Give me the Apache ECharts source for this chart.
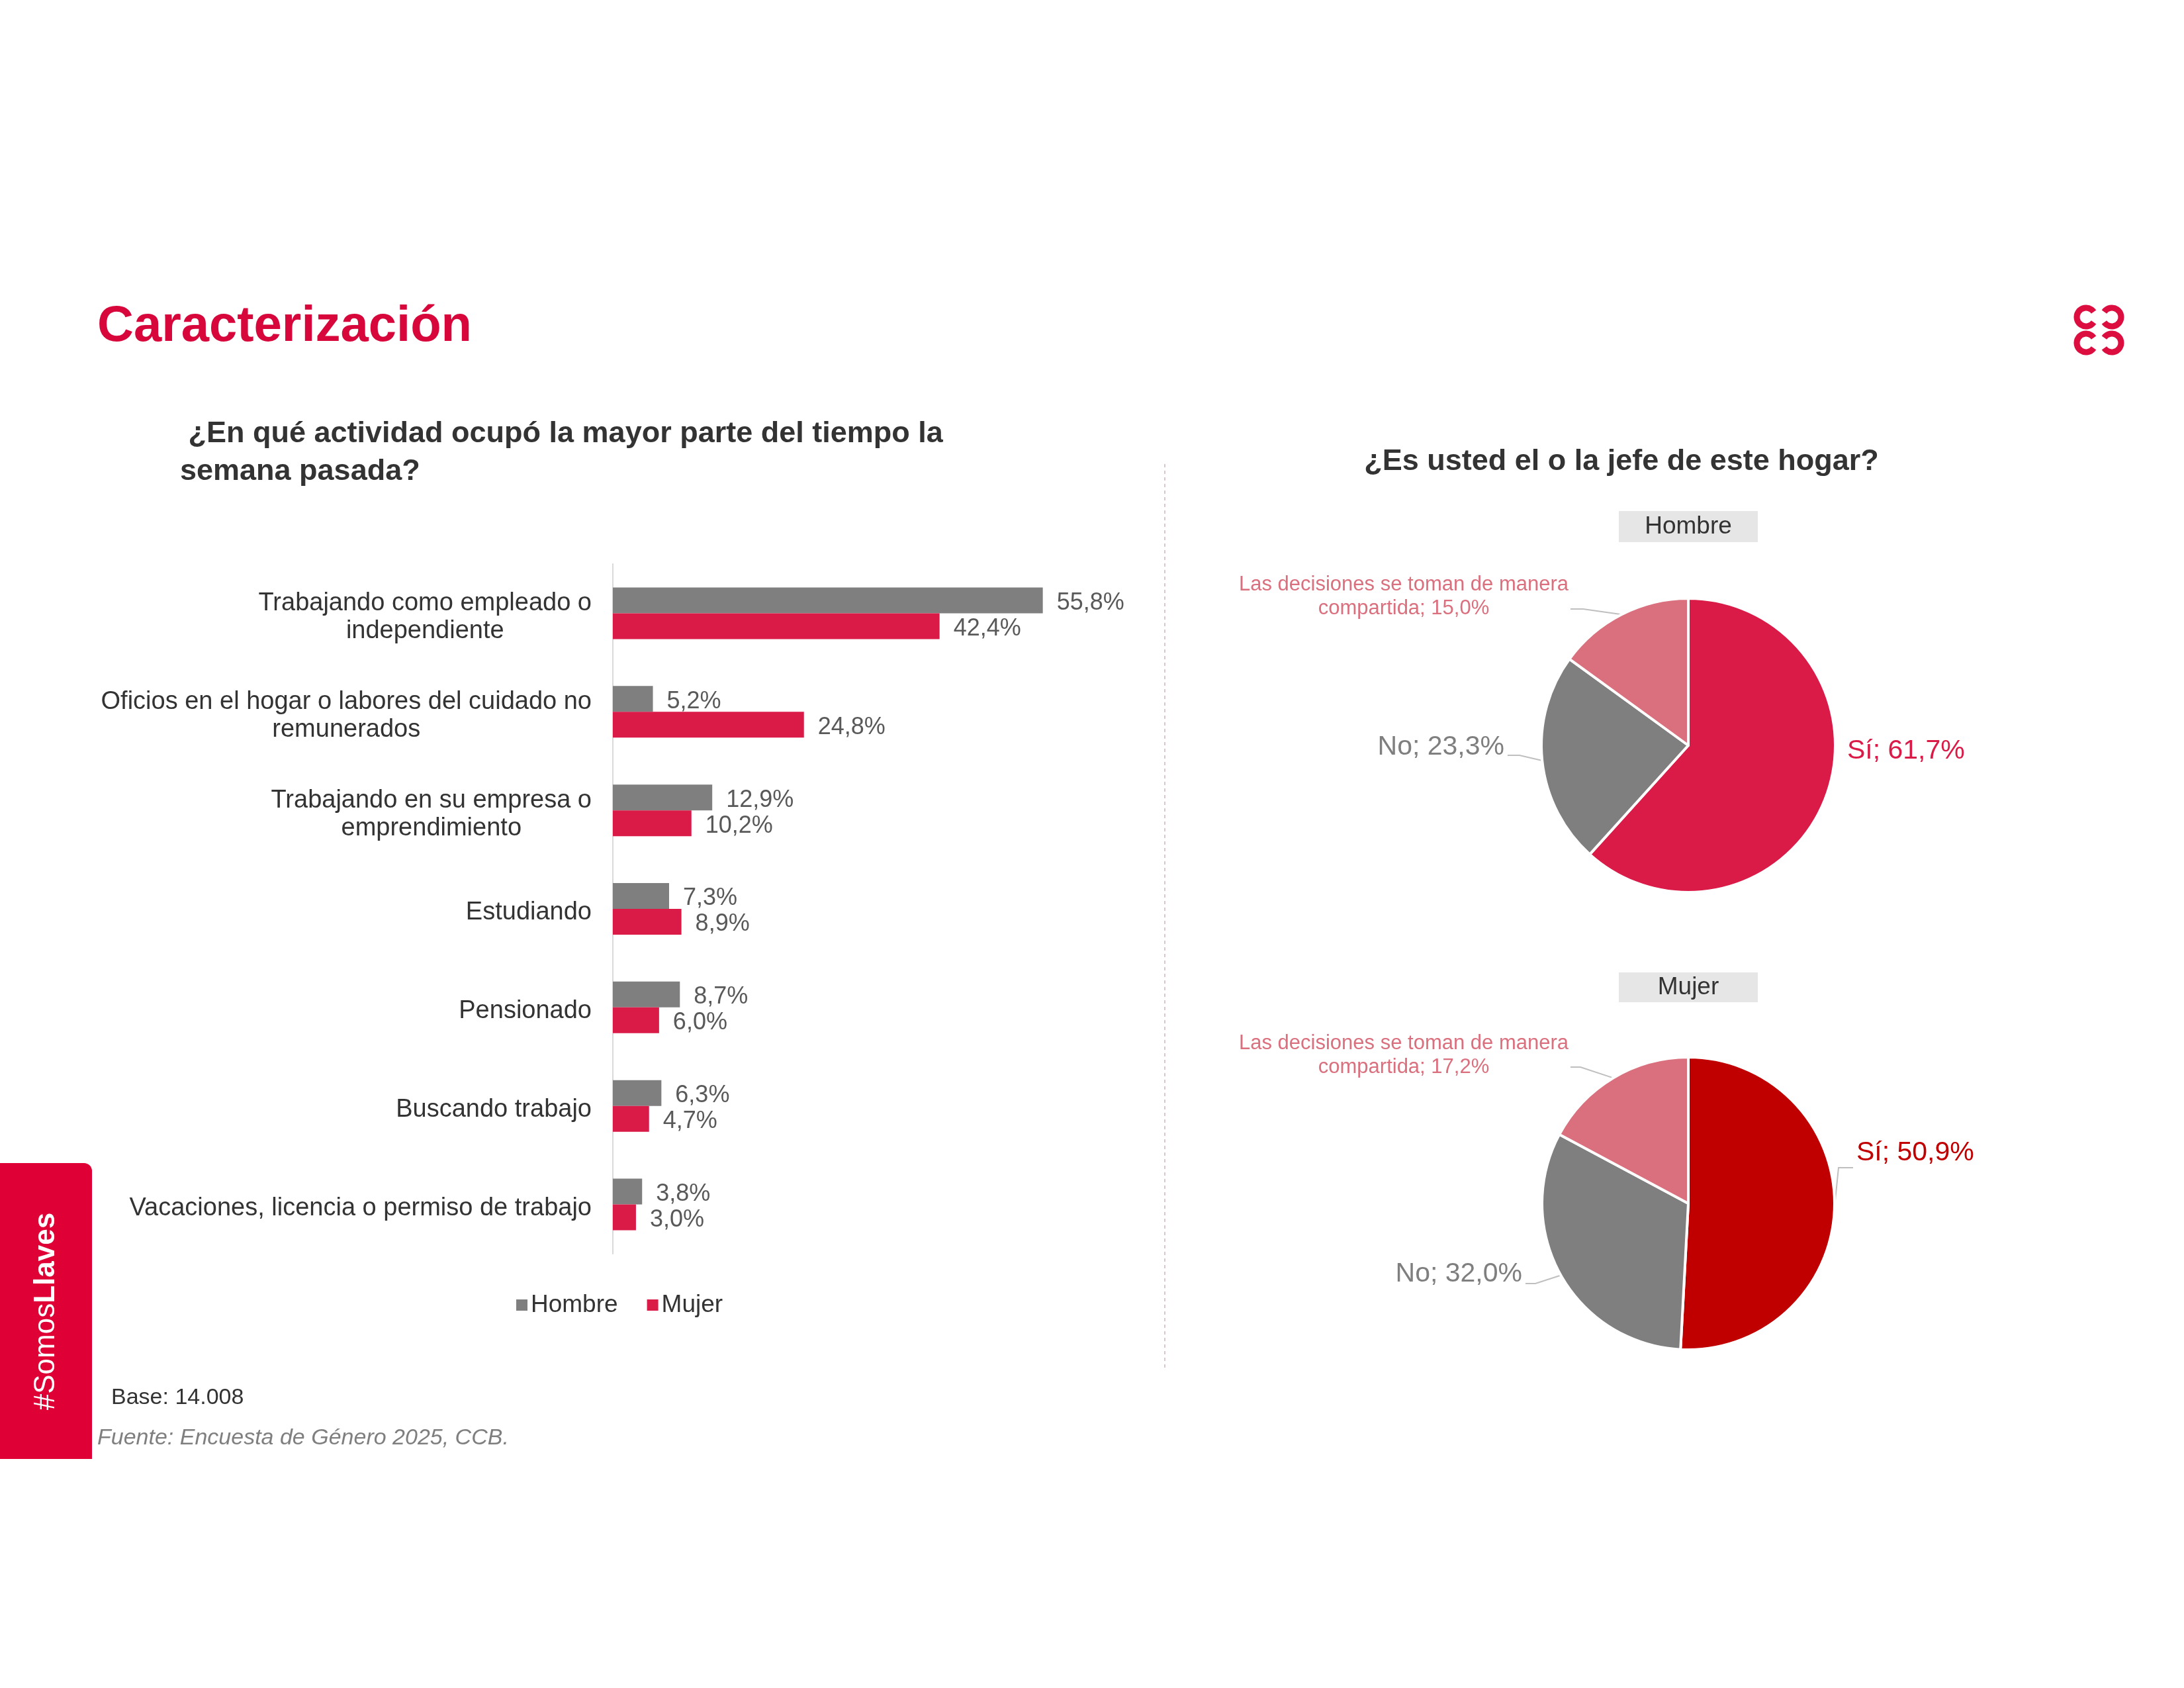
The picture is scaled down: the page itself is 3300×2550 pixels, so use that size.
<!DOCTYPE html>
<html>
<head>
<meta charset="utf-8">
<script src="https://cdn.jsdelivr.net/npm/echarts@6/dist/echarts.min.js"></script>
<style>
html,body{margin:0;padding:0;background:#fff;}
#main{width:3300px;height:2550px;}
</style>
</head>
<body>
<div id="main"></div>
<script>
// ---------- DATA ----------
const categories = [
  'Trabajando como empleado o\nindependiente',
  'Oficios en el hogar o labores del cuidado no\nremunerados',
  'Trabajando en su empresa o\nemprendimiento',
  'Estudiando',
  'Pensionado',
  'Buscando trabajo',
  'Vacaciones, licencia o permiso de trabajo'
];
const hombreActividad = [55.8, 5.2, 12.9, 7.3, 8.7, 6.3, 3.8];
const mujerActividad  = [42.4, 24.8, 10.2, 8.9, 6.0, 4.7, 3.0];
const seriesNames = ['Hombre', 'Mujer'];

const pieNames = ['Sí', 'No', 'Las decisiones se toman de manera\ncompartida'];
const hombreJefe = [61.7, 23.3, 15.0];
const mujerJefe  = [50.9, 32.0, 17.2];

// ---------- STYLE ----------
const FONT = '"Liberation Sans", Arial, Helvetica, sans-serif';
const RED = '#DA1A47';
const GRAY = '#7F7F7F';
const PINK = '#DA707E';
const DARKRED = '#C00000';
const TXT = '#333333';

function fmt(v) { return v.toFixed(1).replace('.', ',') + '%'; }

function pieAnchors(values, cx, cy, r) {
  const total = values.reduce((a, b) => a + b, 0);
  let acc = 0;
  return values.map(v => {
    const mid = (acc + v / 2) / total * Math.PI * 2;
    acc += v;
    return [cx + r * Math.sin(mid), cy - r * Math.cos(mid)];
  });
}

function makePie(values, colors, labelColors, center, radius, labelSpec, hideLineIdx) {
  const anchors = pieAnchors(values, center[0], center[1], radius);
  return {
    type: 'pie',
    center: center,
    radius: radius,
    startAngle: 90,
    clockwise: true,
    silent: true,
    avoidLabelOverlap: false,
    itemStyle: { borderColor: '#ffffff', borderWidth: 4 },
    label: {
      show: true,
      position: 'outside',
      fontFamily: FONT,
      formatter: p => p.name + '; ' + fmt(p.value)
    },
    labelLine: { show: true, length: 10, length2: 10, lineStyle: { color: '#BFBFBF', width: 2 } },
    data: values.map((v, i) => ({
      name: pieNames[i],
      value: v,
      itemStyle: { color: colors[i] },
      label: { color: labelColors[i], fontSize: i === 2 ? 31 : 41, lineHeight: i === 2 ? 36 : 44, align: i === 2 ? 'center' : 'left' },
      labelLine: { show: hideLineIdx.indexOf(i) < 0 }
    })),
    labelLayout: function (params) {
      const s = labelSpec[params.dataIndex];
      const out = { x: s.x, y: s.y, align: s.align, verticalAlign: 'middle' };
      if (s.line) {
        out.labelLinePoints = [anchors[params.dataIndex], s.line[0], s.line[1]];
      }
      return out;
    }
  };
}

const chart = echarts.init(document.getElementById('main'), null, { renderer: 'canvas' });

const hombreLabels = [
  { x: 2791, y: 1135, align: 'left', line: null },
  { x: 2273, y: 1129, align: 'right', line: [[2296, 1141], [2278, 1141]] },
  { x: 2121, y: 901, align: 'center', line: [[2392, 920], [2373, 920]] }
];
const mujerLabels = [
  { x: 2805, y: 1742, align: 'left', line: [[2778, 1764], [2800, 1764]] },
  { x: 2300, y: 1925, align: 'right', line: [[2320, 1939], [2305, 1939]] },
  { x: 2121, y: 1594, align: 'center', line: [[2388, 1612], [2373, 1612]] }
];

const logoColor = '#DC0D3F';
function cArc(cx, cy, openRight) {
  const g = 0.6;
  return {
    type: 'arc',
    shape: openRight
      ? { cx: cx, cy: cy, r: 14, startAngle: g, endAngle: Math.PI * 2 - g, clockwise: true }
      : { cx: cx, cy: cy, r: 14, startAngle: Math.PI + g, endAngle: Math.PI * 3 - g, clockwise: true },
    style: { stroke: logoColor, lineWidth: 9, fill: null }
  };
}

const option = {
  backgroundColor: '#ffffff',
  animation: false,
  textStyle: { fontFamily: FONT },
  legend: {
    data: seriesNames,
    left: 775,
    top: 1948,
    icon: 'rect',
    itemWidth: 17,
    itemHeight: 17,
    itemGap: 44,
    textStyle: { fontSize: 37, color: TXT, fontFamily: FONT }
  },
  grid: { left: 926, top: 852, width: 815, height: 1042, containLabel: false },
  xAxis: {
    type: 'value', min: 0, max: 70, show: false,
    splitLine: { show: false }
  },
  yAxis: {
    type: 'category',
    inverse: true,
    data: categories,
    axisLine: { show: true, lineStyle: { color: '#D9D9D9', width: 2 } },
    axisTick: { show: false },
    axisLabel: {
      margin: 32,
      color: TXT,
      fontFamily: FONT,
      fontSize: 38,
      padding: [12, 0, 0, 0],
      formatter: v => v.split('\n').map(l => '{c|' + l + '}').join('\n'),
      rich: { c: { align: 'center', fontSize: 38, lineHeight: 42, color: TXT, fontFamily: FONT } }
    }
  },
  series: [
    {
      name: seriesNames[0], type: 'bar', data: hombreActividad, barWidth: 39, barGap: '0%',
      itemStyle: { color: GRAY }, silent: true,
      label: { show: true, position: 'right', distance: 21, offset: [0, 4], color: '#595959', fontSize: 36, fontFamily: FONT, formatter: p => fmt(p.value) }
    },
    {
      name: seriesNames[1], type: 'bar', data: mujerActividad, barWidth: 39, barGap: '0%',
      itemStyle: { color: RED }, silent: true,
      label: { show: true, position: 'right', distance: 21, offset: [0, 4], color: '#595959', fontSize: 36, fontFamily: FONT, formatter: p => fmt(p.value) }
    },
    makePie(hombreJefe, [RED, GRAY, PINK], [RED, GRAY, PINK], [2551, 1126], 222, hombreLabels, [0]),
    makePie(mujerJefe, [DARKRED, GRAY, PINK], [DARKRED, GRAY, PINK], [2551, 1818], 221, mujerLabels, [])
  ],
  graphic: [
    // page title
    { type: 'text', x: 147, y: 494, style: { text: 'Caracterización', fill: '#D7063B', font: 'bold 76px ' + FONT, textAlign: 'left', textVerticalAlign: 'middle' } },
    // logo
    cArc(3152, 479, true), cArc(3191, 479, false), cArc(3152, 518, true), cArc(3191, 518, false),
    // left subtitle
    { type: 'text', x: 272, y: 684, style: { text: ' ¿En qué actividad ocupó la mayor parte del tiempo la\nsemana pasada?', fill: TXT, font: 'bold 45px ' + FONT, lineHeight: 57, textAlign: 'left', textVerticalAlign: 'middle' } },
    // right title
    { type: 'text', x: 2450, y: 698, style: { text: '¿Es usted el o la jefe de este hogar?', fill: TXT, font: 'bold 45px ' + FONT, textAlign: 'center', textVerticalAlign: 'middle' } },
    // divider
    { type: 'line', shape: { x1: 1760, y1: 701, x2: 1760, y2: 2069 }, style: { stroke: '#D8C8CD', lineWidth: 2, lineDash: [5, 5] } },
    // pie headers
    { type: 'rect', shape: { x: 2446, y: 772, width: 210, height: 47 }, style: { fill: '#E7E6E6' } },
    { type: 'text', x: 2551, y: 796, style: { text: 'Hombre', fill: TXT, font: '37px ' + FONT, textAlign: 'center', textVerticalAlign: 'middle' } },
    { type: 'rect', shape: { x: 2446, y: 1469, width: 210, height: 45 }, style: { fill: '#E7E6E6' } },
    { type: 'text', x: 2551, y: 1492, style: { text: 'Mujer', fill: TXT, font: '37px ' + FONT, textAlign: 'center', textVerticalAlign: 'middle' } },
    // side bar
    { type: 'rect', shape: { x: 0, y: 1757, width: 139, height: 447, r: [0, 12, 0, 0] }, style: { fill: '#DF0036' } },
    {
      type: 'text', x: 70, y: 1981, rotation: Math.PI / 2,
      style: {
        text: '{a|#Somos}{b|Llaves}', textAlign: 'center', textVerticalAlign: 'middle',
        rich: {
          a: { fill: '#ffffff', color: '#ffffff', fontSize: 44, fontFamily: FONT },
          b: { fill: '#ffffff', color: '#ffffff', fontSize: 44, fontWeight: 'bold', fontFamily: FONT }
        }
      }
    },
    // base & source
    { type: 'text', x: 168, y: 2112, style: { text: 'Base: 14.008', fill: TXT, font: '34px ' + FONT, textAlign: 'left', textVerticalAlign: 'middle' } },
    { type: 'text', x: 147, y: 2173, style: { text: 'Fuente: Encuesta de Género 2025, CCB.', fill: '#7F7F7F', font: 'italic 34px ' + FONT, textAlign: 'left', textVerticalAlign: 'middle' } }
  ]
};

chart.setOption(option);
</script>
</body>
</html>
